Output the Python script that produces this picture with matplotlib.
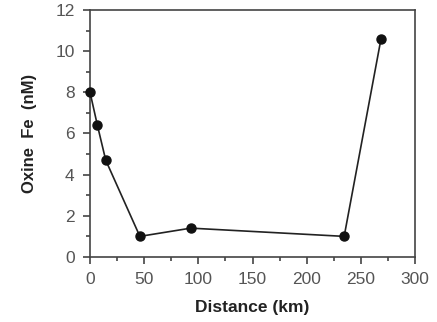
import matplotlib
matplotlib.use("Agg")
import matplotlib.pyplot as plt
from matplotlib.ticker import MultipleLocator

plt.rcParams["font.family"] = ["Liberation Sans", "DejaVu Sans"]

distance_km = [0, 6.8, 14.5, 46, 93, 234.5, 268.5]
oxine_fe_nM = [8.0, 6.4, 4.7, 1.0, 1.4, 1.0, 10.6]

fig = plt.figure(figsize=(4.37, 3.22), dpi=100)
ax = fig.add_axes([0.206, 0.202, 0.744, 0.767])

ax.plot(distance_km, oxine_fe_nM, color="#222222", lw=1.2,
        marker="o", ms=6.5, mfc="#111111", mec="#111111", clip_on=False, zorder=3)

ax.set_xlim(0, 300)
ax.set_ylim(0, 12)
ax.xaxis.set_major_locator(MultipleLocator(50))
ax.xaxis.set_minor_locator(MultipleLocator(25))
ax.yaxis.set_major_locator(MultipleLocator(2))
ax.yaxis.set_minor_locator(MultipleLocator(1))

ax.tick_params(which="both", direction="out", color="#444444", width=1.2,
               labelsize=12.5, labelcolor="#555555")
ax.tick_params(which="major", length=5, pad=6)
ax.tick_params(which="minor", length=3)

for s in ax.spines.values():
    s.set_linewidth(1.2)
    s.set_color("#444444")

ax.set_xlabel("Distance (km)", fontsize=12.5, fontweight="bold", color="#222222", labelpad=9)
ax.set_ylabel("Oxine  Fe  (nM)", fontsize=12, fontweight="bold", color="#222222", labelpad=13)

fig.savefig("out.png", dpi=100)
